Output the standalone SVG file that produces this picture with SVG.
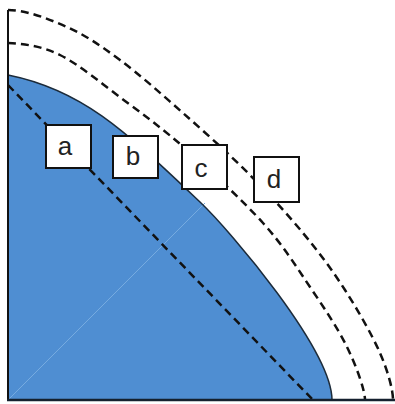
<svg xmlns="http://www.w3.org/2000/svg" width="395" height="404" viewBox="0 0 395 404">
<style>
.dash{fill:none;stroke:#111;stroke-width:2.5;stroke-dasharray:8 5}
.box rect{fill:#fff;stroke:#111;stroke-width:2}
.box text{font-family:"Liberation Sans",Arial,sans-serif;font-size:26px;fill:#222;text-anchor:middle}
</style>
<rect width="395" height="404" fill="#fff"/>
<g id="region">
<path d="M8,75 C83,90 125,131 200,202 C230,230.5 332,350 332,400 L8,400 Z" fill="#4f8ed2"/>
<line x1="8" y1="400" x2="205" y2="203" stroke="#76abe0" stroke-width="1"/>
<path d="M8,75 C83,90 125,131 200,202 C230,230.5 332,350 332,400" fill="none" stroke="#1c2b3a" stroke-width="1.5"/>
</g>
<g id="connectors">
<path class="dash" d="M8,85 L313,400"/>
<path class="dash" d="M8,43 C23,44 40.5,45.3 60,55 C79.5,64.7 103.8,85.2 125,101 C146.2,116.8 164,129.7 187,150 C210,170.3 242.5,200.2 263,223 C283.5,245.8 296,266.3 310,287 C324,307.7 337.8,328.2 347,347 C356.2,365.8 365,390 365,400"/>
<path class="dash" d="M8,10 C26,10 48.3,18.7 67,27 C85.7,35.3 100.7,45.7 120,60 C139.3,74.3 161.7,94.2 183,113 C204.3,131.8 228,153 248,173 C268,193 286.8,213.5 303,233 C319.2,252.5 332.2,270 345,290 C357.8,310 372,334.7 380,353 C388,371.3 393,390 393,400"/>
</g>
<g id="axes">
<line x1="8" y1="10" x2="8" y2="401" stroke="#111" stroke-width="2"/>
<line x1="7" y1="400" x2="395" y2="400" stroke="#14202e" stroke-width="2.5"/>
</g>
<g id="a" class="box"><rect x="46" y="125" width="45" height="43"/><text x="65" y="155">a</text></g>
<g id="b" class="box"><rect x="113" y="136" width="45" height="42"/><text x="133" y="165">b</text></g>
<g id="c" class="box"><rect x="182" y="145" width="45" height="44"/><text x="201" y="177">c</text></g>
<g id="d" class="box"><rect x="254" y="157" width="45" height="45"/><text x="274" y="188">d</text></g>
</svg>
